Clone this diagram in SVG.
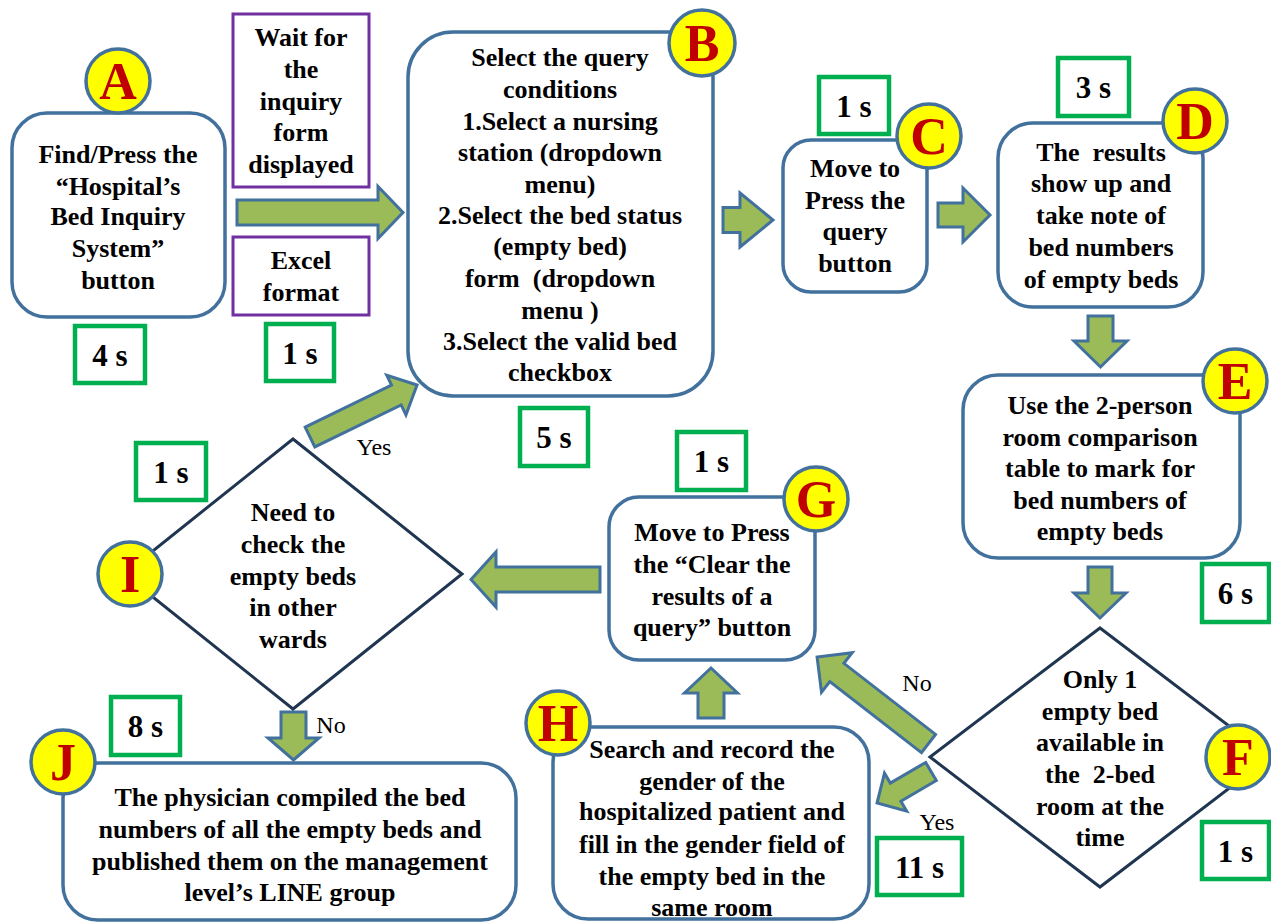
<svg xmlns="http://www.w3.org/2000/svg" width="1271" height="923" viewBox="0 0 1271 923">
<style>
.box{fill:#fff;stroke:#41719C;stroke-width:3.5}
.dia{fill:#fff;stroke:#1F3550;stroke-width:3}
.pbox{fill:#fff;stroke:#7030A0;stroke-width:3}
.gbox{fill:#fff;stroke:#00B050;stroke-width:4.5}
.circ{fill:#FFFF00;stroke:#41719C;stroke-width:3.5}
.arr{fill:#9BBB59;stroke:#41719C;stroke-width:3;stroke-linejoin:miter}
.t{font-family:"Liberation Serif","Times New Roman",serif;font-weight:bold;font-size:26px;fill:#000;text-anchor:middle}
.tm{font-family:"Liberation Serif","Times New Roman",serif;font-weight:bold;font-size:31px;fill:#000;text-anchor:middle}
.lt{font-family:"Liberation Serif","Times New Roman",serif;font-weight:bold;font-size:52px;fill:#C00000;text-anchor:middle}
.lb{font-family:"Liberation Serif","Times New Roman",serif;font-size:24px;fill:#000;text-anchor:middle}
</style>
<rect width="1271" height="923" fill="#fff"/>
<g id="connectors">
  <!-- A -> B -->
  <polygon class="arr" transform="translate(237,212.5)" points="0,-12.5 141,-12.5 141,-26 166,0 141,26 141,12.5 0,12.5"/>
  <!-- B -> C -->
  <polygon class="arr" transform="translate(723,220)" points="0,-12.5 17,-12.5 17,-27 50,0 17,27 17,12.5 0,12.5"/>
  <!-- C -> D -->
  <polygon class="arr" transform="translate(938,215)" points="0,-12 25,-12 25,-27 52,0 25,27 25,12 0,12"/>
  <!-- D -> E -->
  <polygon class="arr" transform="translate(1100.5,316) rotate(90)" points="0,-12.5 25,-12.5 25,-26.5 51,0 25,26.5 25,12.5 0,12.5"/>
  <!-- E -> F -->
  <polygon class="arr" transform="translate(1100,567) rotate(90)" points="0,-12 26,-12 26,-26 51,0 26,26 26,12 0,12"/>
  <!-- G -> I -->
  <polygon class="arr" transform="translate(600,579.5) rotate(180)" points="0,-12.5 104,-12.5 104,-27.5 129,0 104,27.5 104,12.5 0,12.5"/>
  <!-- H -> G -->
  <polygon class="arr" transform="translate(711,718) rotate(-90)" points="0,-13 25,-13 25,-26.5 50,0 25,26.5 25,13 0,13"/>
  <!-- I -> J (No) -->
  <polygon class="arr" transform="translate(293.5,712) rotate(90)" points="0,-12.5 26,-12.5 26,-25.5 48,0 26,25.5 26,12.5 0,12.5"/>
  <!-- I -> B (Yes) -->
  <polygon class="arr" transform="translate(310,437) rotate(-25.9)" points="0,-11 96,-11 96,-22 119,0 96,22 96,11 0,11"/>
  <!-- F -> G (No) -->
  <polygon class="arr" transform="translate(928.5,743.5) rotate(-142.2)" points="0,-11.5 116,-11.5 116,-25 141,0 116,25 116,11.5 0,11.5"/>
  <!-- F -> H (Yes) -->
  <polygon class="arr" transform="translate(931,771.5) rotate(149.7)" points="0,-10.5 41,-10.5 41,-22 62.5,0 41,22 41,10.5 0,10.5"/>
  <text class="lb" x="374" y="455">Yes</text>
  <text class="lb" x="331" y="733">No</text>
  <text class="lb" x="917" y="691">No</text>
  <text class="lb" x="937" y="830">Yes</text>
</g>
<g id="node-A">
  <rect class="box" x="12" y="113" width="213" height="204" rx="35"/>
  <text class="t" x="118" y="163">Find/Press the</text>
  <text class="t" x="118" y="195">“Hospital’s</text>
  <text class="t" x="118" y="225">Bed Inquiry</text>
  <text class="t" x="118" y="257">System”</text>
  <text class="t" x="118" y="289">button</text>
  <circle class="circ" cx="118" cy="81" r="32"/>
  <text class="lt" x="118" y="99">A</text>
  <rect class="gbox" x="75" y="326" width="70" height="57"/>
  <text class="tm" x="110" y="366">4 s</text>
</g>
<g id="note-wait">
  <rect class="pbox" x="233" y="14" width="136" height="173"/>
  <text class="t" x="301" y="46">Wait for</text>
  <text class="t" x="301" y="78">the</text>
  <text class="t" x="301" y="110">inquiry</text>
  <text class="t" x="301" y="141">form</text>
  <text class="t" x="301" y="173">displayed</text>
</g>
<g id="note-excel">
  <rect class="pbox" x="233" y="237" width="136" height="78"/>
  <text class="t" x="301" y="269">Excel</text>
  <text class="t" x="301" y="301">format</text>
  <rect class="gbox" x="266" y="324" width="68" height="57"/>
  <text class="tm" x="300" y="364">1 s</text>
</g>
<g id="node-B">
  <rect class="box" x="408" y="32" width="305" height="364" rx="45"/>
  <text class="t" x="560" y="66">Select the query</text>
  <text class="t" x="560" y="98">conditions</text>
  <text class="t" x="560" y="130">1.Select a nursing</text>
  <text class="t" x="560" y="161">station (dropdown</text>
  <text class="t" x="560" y="193">menu)</text>
  <text class="t" x="560" y="224">2.Select the bed status</text>
  <text class="t" x="560" y="255">(empty bed)</text>
  <text class="t" x="560" y="287" xml:space="preserve">form  (dropdown</text>
  <text class="t" x="560" y="319">menu )</text>
  <text class="t" x="560" y="350">3.Select the valid bed</text>
  <text class="t" x="560" y="381">checkbox</text>
  <circle class="circ" cx="702" cy="43" r="33"/>
  <text class="lt" x="702" y="61">B</text>
  <rect class="gbox" x="520" y="408" width="68" height="58"/>
  <text class="tm" x="554" y="448">5 s</text>
</g>
<g id="node-C">
  <rect class="box" x="783" y="140" width="144" height="152" rx="28"/>
  <text class="t" x="855" y="177">Move to</text>
  <text class="t" x="855" y="209">Press the</text>
  <text class="t" x="855" y="240">query</text>
  <text class="t" x="855" y="272">button</text>
  <circle class="circ" cx="929" cy="136" r="32"/>
  <text class="lt" x="929" y="154">C</text>
  <rect class="gbox" x="819" y="77" width="70" height="57"/>
  <text class="tm" x="854" y="117">1 s</text>
</g>
<g id="node-D">
  <rect class="box" x="998" y="123" width="205" height="184" rx="35"/>
  <text class="t" x="1101" y="161" xml:space="preserve">The  results</text>
  <text class="t" x="1101" y="192">show up and</text>
  <text class="t" x="1101" y="224">take note of</text>
  <text class="t" x="1101" y="256">bed numbers</text>
  <text class="t" x="1101" y="288">of empty beds</text>
  <circle class="circ" cx="1195" cy="121" r="32"/>
  <text class="lt" x="1195" y="139">D</text>
  <rect class="gbox" x="1058" y="58" width="71" height="58"/>
  <text class="tm" x="1093.5" y="98">3 s</text>
</g>
<g id="node-E">
  <rect class="box" x="963" y="375" width="277" height="183" rx="35"/>
  <text class="t" x="1100" y="414">Use the 2-person</text>
  <text class="t" x="1100" y="446">room comparison</text>
  <text class="t" x="1100" y="477">table to mark for</text>
  <text class="t" x="1100" y="509">bed numbers of</text>
  <text class="t" x="1100" y="540">empty beds</text>
  <circle class="circ" cx="1235" cy="381" r="32"/>
  <text class="lt" x="1235" y="399">E</text>
  <rect class="gbox" x="1202" y="564" width="67" height="58"/>
  <text class="tm" x="1235.5" y="604">6 s</text>
</g>
<g id="node-F">
  <polygon class="dia" points="1100,628 1270,757 1100,887 930,757"/>
  <text class="t" x="1100" y="688">Only 1</text>
  <text class="t" x="1100" y="720">empty bed</text>
  <text class="t" x="1100" y="751">available in</text>
  <text class="t" x="1100" y="783" xml:space="preserve">the  2-bed</text>
  <text class="t" x="1100" y="815">room at the</text>
  <text class="t" x="1100" y="846">time</text>
  <circle class="circ" cx="1238" cy="757" r="32"/>
  <text class="lt" x="1238" y="775">F</text>
  <rect class="gbox" x="1202" y="822" width="67" height="57"/>
  <text class="tm" x="1235.5" y="862">1 s</text>
</g>
<g id="node-G">
  <rect class="box" x="609" y="497" width="206" height="163" rx="30"/>
  <text class="t" x="712" y="541">Move to Press</text>
  <text class="t" x="712" y="573">the “Clear the</text>
  <text class="t" x="712" y="605">results of a</text>
  <text class="t" x="712" y="636">query” button</text>
  <circle class="circ" cx="816" cy="499" r="32"/>
  <text class="lt" x="816" y="517">G</text>
  <rect class="gbox" x="677" y="432" width="69" height="58"/>
  <text class="tm" x="711.5" y="472">1 s</text>
</g>
<g id="node-H">
  <rect class="box" x="553" y="727" width="316" height="192" rx="35"/>
  <text class="t" x="712" y="758">Search and record the</text>
  <text class="t" x="712" y="790">gender of the</text>
  <text class="t" x="712" y="820">hospitalized patient and</text>
  <text class="t" x="712" y="853">fill in the gender field of</text>
  <text class="t" x="712" y="885">the empty bed in the</text>
  <text class="t" x="712" y="916">same room</text>
  <circle class="circ" cx="558" cy="723" r="32"/>
  <text class="lt" x="558" y="741">H</text>
  <rect class="gbox" x="877" y="838" width="85" height="57"/>
  <text class="tm" x="919.5" y="878">11 s</text>
</g>
<g id="node-I">
  <polygon class="dia" points="293,439 462,574 293,709 124,574"/>
  <text class="t" x="293" y="521">Need to</text>
  <text class="t" x="293" y="553">check the</text>
  <text class="t" x="293" y="585">empty beds</text>
  <text class="t" x="293" y="616">in other</text>
  <text class="t" x="293" y="648">wards</text>
  <circle class="circ" cx="130" cy="574" r="32"/>
  <text class="lt" x="130" y="592">I</text>
  <rect class="gbox" x="136" y="443" width="70" height="57"/>
  <text class="tm" x="171" y="483">1 s</text>
</g>
<g id="node-J">
  <rect class="box" x="63" y="763" width="453" height="157" rx="35"/>
  <text class="t" x="290" y="806">The physician compiled the bed</text>
  <text class="t" x="290" y="838">numbers of all the empty beds and</text>
  <text class="t" x="290" y="870">published them on the management</text>
  <text class="t" x="290" y="901">level’s LINE group</text>
  <circle class="circ" cx="63" cy="762" r="32"/>
  <text class="lt" x="63" y="780">J</text>
  <rect class="gbox" x="111" y="697" width="69" height="58"/>
  <text class="tm" x="145.5" y="737">8 s</text>
</g>
</svg>
